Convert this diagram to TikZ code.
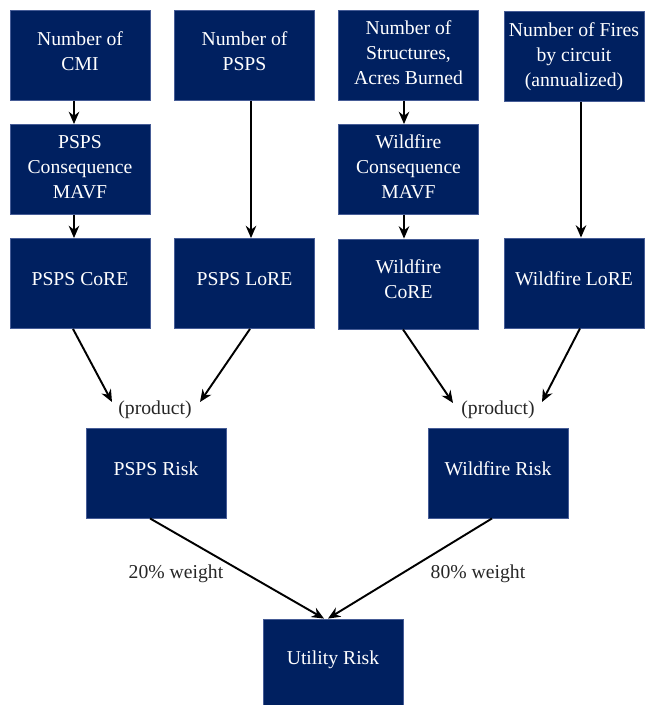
\documentclass[tikz,border=0pt]{standalone}
\usepackage{fontspec}
\setmainfont{Liberation Serif}
\newfontfamily\boxfont{Liberation Serif}
\usetikzlibrary{arrows.meta,calc}

\definecolor{navybox}{RGB}{0,32,96}
\definecolor{navyedge}{RGB}{70,92,150}

\begin{document}
\begin{tikzpicture}[x=0.02cm, y=-0.02cm,
    box/.style={rectangle, fill=navybox, draw=navyedge, line width=0.5pt,
      minimum width=2.8cm, minimum height=1.8cm, inner sep=0pt},
    boxtext/.style={text=white, align=center, yshift=0.09cm,
      font=\boxfont\fontsize{11.2pt}{14.2pt}\selectfont},
    note/.style={text=black!85, font=\boxfont\fontsize{11.2pt}{14.2pt}\selectfont},
    arrow/.style={line width=1.1pt, -{Stealth[length=7pt,width=6pt]}}]

  \useasboundingbox (0,0) rectangle (645,705);

  % Draw the input boxes
  \node[box, label={[boxtext]center:Number of\\CMI}] (cmi) at (80,55.5) {};
  \node[box, label={[boxtext]center:Number of\\PSPS}] (npsps) at (244.5,55.5) {};
  \node[box, label={[boxtext, yshift=-0.04cm]center:Number of\\Structures,\\Acres Burned}] (struct) at (408.5,55.5) {};
  \node[box, label={[boxtext, yshift=-0.09cm]center:Number of Fires\\by circuit\\(annualized)}] (fires) at (574,56.5) {};

  % Draw the MAVF boxes
  \node[box, label={[boxtext, yshift=-0.04cm]center:PSPS\\Consequence\\MAVF}] (pmavf) at (80,169.5) {};
  \node[box, label={[boxtext, yshift=-0.04cm]center:Wildfire\\Consequence\\MAVF}] (wmavf) at (408.5,169.5) {};

  % Draw the CoRE and LoRE boxes
  \node[box, label={[boxtext]center:PSPS CoRE}] (pcore) at (80,283.5) {};
  \node[box, label={[boxtext]center:PSPS LoRE}] (plore) at (244.5,283.5) {};
  \node[box, label={[boxtext]center:Wildfire\\CoRE}] (wcore) at (408.5,284) {};
  \node[box, label={[boxtext]center:Wildfire LoRE}] (wlore) at (574,283) {};

  % Products and risks
  \node[note] (prodl) at (155,410) {(product)};
  \node[note] (prodr) at (498,410) {(product)};
  \node[box, label={[boxtext]center:PSPS Risk}] (prisk) at (156,473) {};
  \node[box, label={[boxtext]center:Wildfire Risk}] (wrisk) at (498,473) {};
  \node[box, label={[boxtext]center:Utility Risk}] (urisk) at (333,664) {};

  % Weights
  \node[note] (wtl) at (176,574) {20\% weight};
  \node[note] (wtr) at (478,574) {80\% weight};

  % Draw the arrows
  \draw[arrow] ([shift={(-6,0)}]cmi.south) -- ([shift={(-6,0)}]pmavf.north);
  \draw[arrow] ([shift={(-6,0)}]pmavf.south) -- ([shift={(-6,0)}]pcore.north);
  \draw[arrow] ([shift={(6.5,0)}]npsps.south) -- ([shift={(6.5,0)}]plore.north);
  \draw[arrow] ([shift={(-4.5,0)}]struct.south) -- ([shift={(-4.5,0)}]wmavf.north);
  \draw[arrow] ([shift={(-4.5,0)}]wmavf.south) -- ([shift={(-4.5,0)}]wcore.north);
  \draw[arrow] ([shift={(7,0)}]fires.south) -- ([shift={(7,0)}]wlore.north);

  \draw[arrow] ([shift={(-7,0)}]pcore.south) -- ([shift={(-43,-8)}]prodl.center);
  \draw[arrow] ([shift={(5.5,0)}]plore.south) -- ([shift={(45,-8)}]prodl.center);
  \draw[arrow] ([shift={(-5.5,0)}]wcore.south) -- ([shift={(-45,-7)}]prodr.center);
  \draw[arrow] ([shift={(6,0)}]wlore.south) -- ([shift={(44,-8)}]prodr.center);

  \draw[arrow] ([shift={(-6,0)}]prisk.south) -- ([shift={(-9,0)}]urisk.north);
  \draw[arrow] ([shift={(-6,0)}]wrisk.south) -- ([shift={(-5,0)}]urisk.north);

\end{tikzpicture}
\end{document}
